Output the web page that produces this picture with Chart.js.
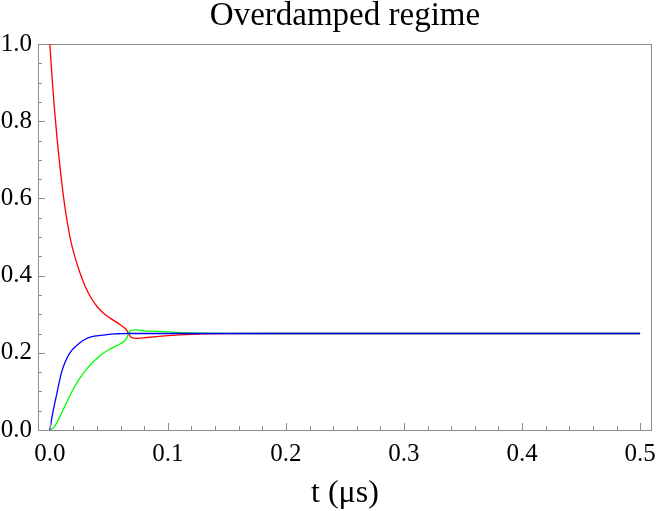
<!DOCTYPE html>
<html lang="en">
<head>
    <meta charset="UTF-8">
    <title>Overdamped regime</title>
    <script src="https://cdn.jsdelivr.net/npm/chart.js@4.4.1/dist/chart.umd.min.js"></script>
    <style>
        html, body { margin: 0; padding: 0; background: #fff; }
        #wrap { width: 665px; height: 511px; }
    </style>
</head>
<body>
    <div id="wrap"><canvas id="chart"></canvas></div>
    <script>
    // time samples (microseconds)
    const tValues = [0, 0.002, 0.004, 0.006, 0.008, 0.01, 0.0125, 0.015, 0.0175, 0.02,
        0.025, 0.03, 0.035, 0.04, 0.045, 0.05, 0.055, 0.06, 0.063, 0.065, 0.0667, 0.068,
        0.07, 0.073, 0.077, 0.08, 0.09, 0.1, 0.11, 0.12, 0.13, 0.15, 0.2, 0.3, 0.4, 0.5];

    const redValues = [1.0, 0.909, 0.83, 0.76, 0.699, 0.644, 0.584, 0.535, 0.494, 0.462,
        0.412, 0.372, 0.342, 0.32, 0.304, 0.292, 0.282, 0.272, 0.265, 0.259, 0.25, 0.243,
        0.2385, 0.2375, 0.238, 0.239, 0.242, 0.2445, 0.2465, 0.248, 0.249, 0.2497, 0.25, 0.25, 0.25, 0.25];

    const greenValues = [0, 0.003, 0.009, 0.019, 0.031, 0.044, 0.06, 0.076, 0.092, 0.107,
        0.132, 0.153, 0.171, 0.186, 0.198, 0.208, 0.216, 0.224, 0.23, 0.237, 0.25, 0.256,
        0.259, 0.2595, 0.258, 0.257, 0.2555, 0.254, 0.2525, 0.2515, 0.251, 0.2503, 0.25, 0.25, 0.25, 0.25];

    const blueValues = [0, 0.036, 0.067, 0.095, 0.124, 0.15, 0.172, 0.189, 0.202, 0.211,
        0.225, 0.235, 0.241, 0.244, 0.246, 0.248, 0.249, 0.2495, 0.2498, 0.25, 0.25, 0.25,
        0.25, 0.25, 0.25, 0.25, 0.25, 0.25, 0.25, 0.25, 0.25, 0.25, 0.25, 0.25, 0.25, 0.25];

    const xTicks = [0, 0.1, 0.2, 0.3, 0.4, 0.5];
    const yTicks = [0, 0.2, 0.4, 0.6, 0.8, 1.0];
    const xMinorStep = 0.02;
    const yMinorStep = 0.05;

    const axisColor = '#8c8c8c';
    const serif = '"Liberation Serif", "DejaVu Serif", serif';

    function toPoints(ys) {
        return tValues.map(function(t, i) { return { x: t, y: ys[i] }; });
    }

    function series(label, ys, color) {
        return {
            label: label,
            data: toPoints(ys),
            borderColor: color,
            backgroundColor: color,
            borderWidth: 1.3,
            pointRadius: 0,
            fill: false,
            cubicInterpolationMode: 'monotone'
        };
    }

    // inward tick marks, major + minor, drawn through the scales
    const innerTicks = {
        id: 'innerTicks',
        afterDraw(chart) {
            const ctx = chart.ctx;
            const xs = chart.scales.x, ys = chart.scales.y;
            const area = chart.chartArea;
            ctx.save();
            ctx.strokeStyle = axisColor;
            ctx.lineWidth = 1;
            ctx.beginPath();
            for (let i = 0; i <= Math.round(0.5 / xMinorStep); i++) {
                const v = i * xMinorStep;
                const px = Math.round(xs.getPixelForValue(v)) + 0.5;
                const major = i % 5 === 0;
                ctx.moveTo(px, area.bottom);
                ctx.lineTo(px, area.bottom - (major ? 7 : 4));
            }
            for (let i = 0; i <= Math.round(1 / yMinorStep); i++) {
                const v = i * yMinorStep;
                const py = Math.round(ys.getPixelForValue(v)) + 0.5;
                const major = i % 4 === 0;
                ctx.moveTo(area.left, py);
                ctx.lineTo(area.left + (major ? 7 : 4), py);
            }
            ctx.stroke();
            ctx.restore();
        }
    };

    document.addEventListener('DOMContentLoaded', function() {
        const ctx = document.getElementById('chart').getContext('2d');
        new Chart(ctx, {
            type: 'line',
            data: {
                // first dataset is painted on top
                datasets: [
                    series('blue', blueValues, '#0000ff'),
                    series('green', greenValues, '#00ff00'),
                    series('red', redValues, '#ff0000')
                ]
            },
            options: {
                responsive: true,
                maintainAspectRatio: false,
                animation: false,
                layout: { padding: 0 },
                plugins: {
                    legend: { display: false },
                    title: { display: false },
                    tooltip: { enabled: false }
                },
                scales: {
                    x: {
                        type: 'linear',
                        position: 'bottom',
                        min: -0.01,
                        max: 0.51,
                        afterBuildTicks: function(s) { s.ticks = xTicks.map(function(v) { return { value: v }; }); },
                        afterFit: function(s) { s.height = 81; },
                        grid: { display: false, drawTicks: false },
                        border: { display: true, color: axisColor, width: 1 },
                        ticks: {
                            color: '#000',
                            padding: 9,
                            maxRotation: 0,
                            font: { family: serif, size: 25 },
                            callback: function(v) { return v.toFixed(1); }
                        },
                        title: {
                            display: true,
                            text: 't (μs)',
                            color: '#000',
                            font: { family: serif, size: 32, lineHeight: 1 },
                            padding: { top: 0, bottom: 1 }
                        }
                    },
                    x2: {
                        type: 'linear',
                        position: 'top',
                        min: -0.01,
                        max: 0.51,
                        afterFit: function(s) { s.height = 44; },
                        grid: { display: false, drawTicks: false },
                        border: { display: true, color: axisColor, width: 1 },
                        ticks: { display: false },
                        title: {
                            display: true,
                            text: 'Overdamped regime',
                            color: '#000',
                            font: { family: serif, size: 33, lineHeight: 1 },
                            padding: { top: 0, bottom: 0 }
                        }
                    },
                    y: {
                        type: 'linear',
                        position: 'left',
                        min: 0,
                        max: 1,
                        afterBuildTicks: function(s) { s.ticks = yTicks.map(function(v) { return { value: v }; }); },
                        afterFit: function(s) { s.width = 38; },
                        grid: { display: false, drawTicks: false },
                        border: { display: true, color: axisColor, width: 1 },
                        ticks: {
                            color: '#000',
                            padding: 6,
                            font: { family: serif, size: 25 },
                            callback: function(v) { return v.toFixed(1); }
                        }
                    },
                    y2: {
                        type: 'linear',
                        position: 'right',
                        min: 0,
                        max: 1,
                        afterFit: function(s) { s.width = 4; },
                        grid: { display: false, drawTicks: false },
                        border: { display: true, color: axisColor, width: 1 },
                        ticks: { display: false }
                    }
                }
            },
            plugins: [innerTicks]
        });
    });
    </script>
</body>
</html>
